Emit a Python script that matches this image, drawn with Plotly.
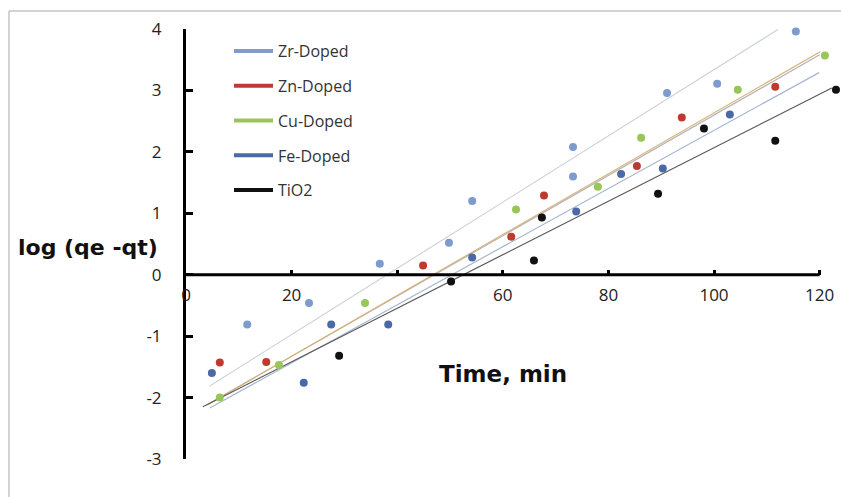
import plotly.graph_objects as go

# ---- data ----
series_names = ["Zr-Doped", "Zn-Doped", "Cu-Doped", "Fe-Doped", "TiO2"]

zr_x = [11.6, 23.3, 36.7, 49.8, 54.2, 73.3, 73.3, 91.1, 100.6, 115.5]
zr_y = [-0.81, -0.46, 0.18, 0.52, 1.20, 1.60, 2.08, 2.96, 3.11, 3.96]

zn_x = [6.4, 15.2, 44.9, 61.6, 67.8, 85.4, 93.9, 111.6]
zn_y = [-1.43, -1.42, 0.15, 0.62, 1.29, 1.77, 2.56, 3.06]

cu_x = [6.4, 17.6, 33.9, 62.5, 78.0, 86.2, 104.5, 121.0]
cu_y = [-2.00, -1.47, -0.46, 1.06, 1.43, 2.23, 3.01, 3.57]

fe_x = [4.9, 22.3, 27.5, 38.3, 54.2, 73.9, 82.4, 90.3, 103.0]
fe_y = [-1.60, -1.76, -0.81, -0.81, 0.28, 1.03, 1.64, 1.73, 2.61]

ti_x = [29.0, 50.2, 65.9, 67.4, 89.4, 98.1, 111.6, 123.1]
ti_y = [-1.32, -0.11, 0.23, 0.93, 1.32, 2.38, 2.18, 3.01]

# trend line end points per series
trend_x0 = [4.5, 4.3, 4.0, 4.5, 3.2]
trend_y0 = [-1.81, -2.10, -2.12, -2.17, -2.15]
trend_x1 = [112.1, 120.0, 120.1, 119.9, 122.3]
trend_y1 = [3.99, 3.58, 3.63, 3.29, 3.04]

x_tickvals = [0, 20, 40, 60, 80, 100, 120]
x_ticktext = ["0", "20", "", "60", "80", "100", "120"]
y_tickvals = [-3, -2, -1, 0, 1, 2, 3, 4]
y_ticktext = ["-3", "-2", "-1", "0", "1", "2", "3", "4"]

# ---- style ----
marker_colors = ["#7d9bcd", "#c0392f", "#98c657", "#4a69a6", "#111111"]
legend_colors = ["#7f9dcc", "#be3b35", "#9bc35a", "#4b6aa5", "#111111"]
trend_colors = ["#cfd2d8", "#b4b4b4", "#d8b27a", "#a6b6d0", "#5a5a5a"]

X_RANGE = [0, 124.05]
Y_RANGE = [-3, 4]

fig = go.Figure()

xs = [zr_x, zn_x, cu_x, fe_x, ti_x]
ys = [zr_y, zn_y, cu_y, fe_y, ti_y]

# trend lines
for i in range(5):
    fig.add_trace(go.Scatter(
        x=[trend_x0[i], trend_x1[i]], y=[trend_y0[i], trend_y1[i]],
        mode="lines", line=dict(color=trend_colors[i], width=1.2),
        showlegend=False, hoverinfo="skip"))

# data points
for i in range(5):
    fig.add_trace(go.Scatter(
        x=xs[i], y=ys[i], mode="markers", name=series_names[i],
        marker=dict(color=marker_colors[i], size=8, line=dict(width=0)),
        cliponaxis=False, showlegend=False))

# legend entries (line style, like the reference)
for i in range(5):
    fig.add_trace(go.Scatter(
        x=[None], y=[None], mode="lines", name=series_names[i],
        line=dict(color=legend_colors[i], width=4),
        legendgroup=series_names[i], showlegend=True))

L, R, T, B = 186, 0, 29, 38
W, H = 841, 497
pw, ph = W - L - R, H - T - B

def px_x(p):
    return (p - L) / pw

def px_y(p):
    return 1 - (p - T) / ph

fig.update_layout(
    width=W, height=H,
    margin=dict(l=L, r=R, t=T, b=B, pad=0),
    paper_bgcolor="white", plot_bgcolor="white",
    showlegend=True,
    legend=dict(x=px_x(229), y=px_y(34), xanchor="left", yanchor="top",
                traceorder="grouped", tracegroupgap=11,
                font=dict(family="Open Sans", size=16, color="#333333"),
                bgcolor="rgba(0,0,0,0)", itemwidth=39),
    xaxis=dict(range=X_RANGE, anchor="free",
               position=(0 - Y_RANGE[0]) / (Y_RANGE[1] - Y_RANGE[0]),
               showline=False, showgrid=False, zeroline=False,
               tickmode="array", tickvals=x_tickvals, ticktext=x_ticktext,
               ticks="inside", ticklen=5, tickwidth=3, tickcolor="black",
               ticklabelstandoff=8,
               tickfont=dict(family="Open Sans", size=17, color="#222222")),
    yaxis=dict(range=Y_RANGE, showline=True, linecolor="black", linewidth=3,
               showgrid=False, zeroline=False,
               tickmode="array", tickvals=y_tickvals, ticktext=y_ticktext,
               ticks="inside", ticklen=7, tickwidth=3, tickcolor="black",
               ticklabelstandoff=18,
               tickfont=dict(family="Open Sans", size=17, color="#222222")),
    annotations=[
        dict(text="<b>log (qe -qt)</b>", xref="paper", yref="paper",
             x=px_x(88), y=px_y(247), xanchor="center", yanchor="middle",
             showarrow=False,
             font=dict(family="DejaVu Sans", size=22, color="#111111")),
        dict(text="<b>Time, min</b>", xref="paper", yref="paper",
             x=px_x(502.5), y=px_y(374), xanchor="center", yanchor="middle",
             showarrow=False,
             font=dict(family="DejaVu Sans", size=23, color="#111111")),
    ],
    shapes=[
        # x axis line through y = 0, ending at 120
        dict(type="line", xref="x", yref="y", x0=0, x1=120, y0=0, y1=0,
             line=dict(color="black", width=3), layer="above"),
        # thin frame of the picture (top and left)
        dict(type="line", xref="paper", yref="paper",
             x0=px_x(9), x1=px_x(841), y0=px_y(11), y1=px_y(11),
             line=dict(color="#c4c4c4", width=1.5)),
        dict(type="line", xref="paper", yref="paper",
             x0=px_x(9), x1=px_x(9), y0=px_y(11), y1=px_y(497),
             line=dict(color="#c4c4c4", width=1.5)),
    ],
)

fig.write_html("out.html")
